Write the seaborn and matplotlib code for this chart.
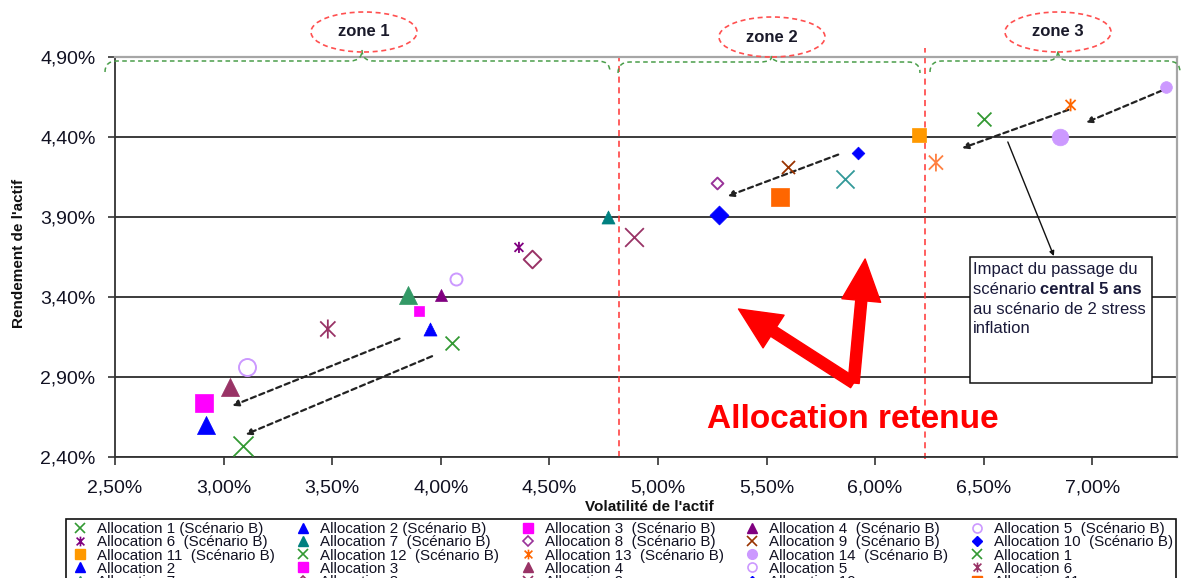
import matplotlib
matplotlib.use("Agg")
import matplotlib.pyplot as plt
import seaborn as sns
import pandas as pd
from matplotlib.path import Path
from matplotlib.patches import Ellipse, PathPatch, Rectangle
from matplotlib.markers import MarkerStyle
from matplotlib.lines import Line2D
from matplotlib.ticker import FuncFormatter

# ---------------------------------------------------------------- data
alloc_ids = list(range(1, 15))

# Scénario B (small markers)
vol_b = [4.05, 3.95, 3.90, 4.00, 4.07, 4.36, 4.77, 5.27, 5.60, 5.92, 6.20, 6.50, 6.90, 7.34]
ret_b = [3.11, 3.20, 3.31, 3.41, 3.51, 3.71, 3.90, 4.11, 4.21, 4.30, 4.41, 4.51, 4.60, 4.71]

# Scénario central (large markers)
vol_c = [3.09, 2.92, 2.91, 3.03, 3.11, 3.48, 3.85, 4.42, 4.89, 5.28, 5.56, 5.86, 6.28, 6.85]
ret_c = [2.47, 2.60, 2.74, 2.84, 2.96, 3.20, 3.41, 3.64, 3.775, 3.91, 4.025, 4.14, 4.24, 4.40]

x_ticks = [2.5, 3.0, 3.5, 4.0, 4.5, 5.0, 5.5, 6.0, 6.5, 7.0]
y_ticks = [2.4, 2.9, 3.4, 3.9, 4.4, 4.9]

zone_labels = ["zone 1", "zone 2", "zone 3"]
zone_bounds = [4.82, 6.23]          # red dashed separators (volatility, %)

# dashed impact arrows: (x_start, y_start, x_end, y_end)
impact_arrows = [
    (3.81, 3.14, 3.04, 2.72),
    (3.96, 3.03, 3.10, 2.54),
    (5.83, 4.29, 5.32, 4.03),
    (6.89, 4.57, 6.40, 4.33),
    (7.32, 4.69, 6.97, 4.49),
]

# ---------------------------------------------------------------- styles
ast_path = Path([(-0.8, -0.8), (0.8, 0.8), (-0.8, 0.8), (0.8, -0.8), (0, -1), (0, 1)],
                [Path.MOVETO, Path.LINETO] * 3)
ASTERISK = MarkerStyle(ast_path)

# (marker kind, colour, size in pt^2)
style_b = {
    1: ("x", "#339933", 100), 2: ("^", "#0000FF", 88), 3: ("s", "#FF00FF", 62),
    4: ("^", "#800080", 75), 5: ("o_open", "#CC99FF", 75), 6: ("ast", "#800080", 64),
    7: ("^", "#008080", 88), 8: ("D_open", "#993399", 36), 9: ("x", "#993300", 88),
    10: ("D", "#0000FF", 42), 11: ("s", "#FF9900", 88), 12: ("x", "#339933", 100),
    13: ("ast", "#FF6600", 83), 14: ("o", "#CC99FF", 71),
}
style_c = {
    1: ("x", "#339933", 207), 2: ("^", "#0000FF", 169), 3: ("s", "#FF00FF", 162),
    4: ("^", "#993366", 169), 5: ("o_open", "#CC99FF", 150), 6: ("ast", "#993366", 187),
    7: ("^", "#339966", 169), 8: ("D_open", "#993366", 81), 9: ("x", "#993366", 181),
    10: ("D", "#0000FF", 93), 11: ("s", "#FF6600", 162), 12: ("x", "#339999", 169),
    13: ("ast", "#FF8040", 162), 14: ("o", "#CC99FF", 144),
}


def scatter_kwargs(kind, color, size):
    kw = dict(s=size, zorder=5)
    if kind == "x":
        kw.update(marker="x", color=color, linewidth=1.3)
    elif kind == "ast":
        kw.update(marker=ASTERISK, color=color, facecolor="none", edgecolor=color, linewidth=1.3)
    elif kind == "o_open":
        kw.update(marker="o", color=color, facecolor="white", edgecolor=color, linewidth=1.4)
    elif kind == "D_open":
        kw.update(marker="D", color=color, facecolor="white", edgecolor=color, linewidth=1.4)
    else:
        kw.update(marker=kind, color=color, edgecolor=color, linewidth=0.5)
    return kw


def legend_handle(kind, color):
    kw = dict(linestyle="none", markersize=7)
    if kind == "x":
        kw.update(marker="x", color=color, markeredgewidth=1.2)
    elif kind == "ast":
        kw.update(marker=ASTERISK, markerfacecolor="none", markeredgecolor=color,
                  markeredgewidth=1.2)
    elif kind == "o_open":
        kw.update(marker="o", markerfacecolor="white", markeredgecolor=color,
                  markeredgewidth=1.2, markersize=6.5)
    elif kind == "D_open":
        kw.update(marker="D", markerfacecolor="white", markeredgecolor=color,
                  markeredgewidth=1.2, markersize=5)
    elif kind == "D":
        kw.update(marker="D", color=color, markersize=5.5)
    elif kind == "s":
        kw.update(marker="s", color=color, markersize=6.5)
    else:
        kw.update(marker=kind, color=color)
    return Line2D([], [], **kw)


# ---------------------------------------------------------------- figure
sns.set_theme(style="white")
plt.rcParams["font.family"] = ["Liberation Sans", "DejaVu Sans"]

W, H = 1182, 578
fig = plt.figure(figsize=(W / 100, H / 100), dpi=100)
fig.patch.set_facecolor("white")
ax = fig.add_axes([115 / W, 1 - 457 / H, (1177 - 115) / W, (457 - 57) / H])


def fx(px):
    return px / W


def fy(py):
    return 1 - py / H


df_b = pd.DataFrame({"alloc": alloc_ids, "vol": vol_b, "ret": ret_b})
df_c = pd.DataFrame({"alloc": alloc_ids, "vol": vol_c, "ret": ret_c})

for df, styles in ((df_c, style_c), (df_b, style_b)):
    for _, row in df.iterrows():
        kind, color, size = styles[int(row["alloc"])]
        sns.scatterplot(x=[row["vol"]], y=[row["ret"]], ax=ax, legend=False,
                        **scatter_kwargs(kind, color, size))

ax.set_xlim(2.5, 7.39)
ax.set_ylim(2.4, 4.9)
ax.set_xticks(x_ticks)
ax.set_yticks(y_ticks)
pct = FuncFormatter(lambda v, _: f"{v:.2f}%".replace(".", ","))
ax.xaxis.set_major_formatter(pct)
ax.yaxis.set_major_formatter(pct)
ax.tick_params(axis="both", labelsize=14, labelcolor="#111122", color="#333333", width=1.2)
ax.tick_params(axis="y", direction="out", length=5, pad=9, left=True)
ax.tick_params(axis="x", direction="out", length=6, pad=10, bottom=True)

ax.yaxis.grid(True, color="#1a1a1a", linewidth=1.2)
ax.xaxis.grid(False)
ax.set_axisbelow(True)
for side in ("left", "bottom"):
    ax.spines[side].set_color("#333333")
    ax.spines[side].set_linewidth(1.3)
for side in ("top", "right"):
    ax.spines[side].set_color("#a6a6a6")
    ax.spines[side].set_linewidth(1.6)

ax.set_xlabel("Volatilité de l'actif", fontsize=11, fontweight="bold", color="#111111")
ax.set_ylabel("Rendement de l'actif", fontsize=11, fontweight="bold", color="#111111")
ax.xaxis.set_label_coords(0.503, -0.108)
ax.yaxis.set_label_coords(-0.084, 0.51)

# zone separators
ax.axvline(zone_bounds[0], ymin=0, ymax=1.0, color="#FF3333", lw=1.1,
           linestyle=(0, (4, 3)), zorder=1)
ax.axvline(zone_bounds[1], ymin=-0.005, ymax=1.023, color="#FF3333", lw=1.1,
           linestyle=(0, (4, 3)), zorder=1, clip_on=False)

# dashed impact arrows
for x0, y0, x1, y1 in impact_arrows:
    ax.annotate("", xy=(x1, y1), xytext=(x0, y0),
                arrowprops=dict(arrowstyle="-|>", color="#222222", lw=1.6,
                                linestyle=(0, (2.4, 1.7)), mutation_scale=9,
                                shrinkA=0, shrinkB=0), zorder=4)

# explanatory box
box_x0, box_y0, box_x1, box_y1 = 6.435, 2.8625, 7.274, 3.65
ax.add_patch(Rectangle((box_x0, box_y0), box_x1 - box_x0, box_y1 - box_y0,
                       facecolor="white", edgecolor="#111111", lw=1.1, zorder=3))
ax.annotate("", xy=(6.823, 3.656), xytext=(6.611, 4.369),
            arrowprops=dict(arrowstyle="-|>", color="#111111", lw=1.0,
                            mutation_scale=7, shrinkA=0, shrinkB=0), zorder=4)

txt_kw = dict(fontsize=12, color="#1a1a3a", va="baseline", ha="left", zorder=6)
line_off = [-17, -37, -57, -76]
ax.annotate("Impact du passage du", xy=(box_x0, box_y1), xytext=(3, line_off[0]),
            textcoords="offset pixels", **txt_kw)
t1 = ax.annotate("scénario ", xy=(box_x0, box_y1), xytext=(3, line_off[1]),
                 textcoords="offset pixels", **txt_kw)
ax.annotate("central 5 ans", xy=(1, 0), xycoords=t1, xytext=(0, 0),
            textcoords="offset pixels", fontweight="bold",
            **{k: v for k, v in txt_kw.items() if k != "va"}, va="bottom")
ax.annotate("au scénario de 2 stress", xy=(box_x0, box_y1), xytext=(3, line_off[2]),
            textcoords="offset pixels", **txt_kw)
ax.annotate("inflation", xy=(box_x0, box_y1), xytext=(3, line_off[3]),
            textcoords="offset pixels", **txt_kw)

# highlighted allocation
ax.text(5.896, 2.581, "Allocation retenue", fontsize=24, fontweight="bold",
        color="#FF0000", ha="center", va="baseline", zorder=7)
red_tail = (5.901, 2.8625)
for tip in [(5.371, 3.325), (5.954, 3.6375)]:
    ax.annotate("", xy=tip, xytext=red_tail,
                arrowprops=dict(arrowstyle="simple,head_length=1.5,head_width=1.4,tail_width=0.4",
                                color="#FF0000", mutation_scale=20, shrinkA=0, shrinkB=0),
                zorder=7)


# ---------------------------------------------------------------- zones (figure coords)
def brace(x0, x1, xm, base, peak, drop=11, r=12):
    pts = [(x0, base + drop), (x0, base), (x0 + r, base),
           (xm - r, base), (xm, base), (xm, peak),
           (xm, base), (xm + r, base),
           (x1 - r, base), (x1, base), (x1, base + drop)]
    codes = [Path.MOVETO, Path.CURVE3, Path.CURVE3,
             Path.LINETO, Path.CURVE3, Path.CURVE3,
             Path.CURVE3, Path.CURVE3,
             Path.LINETO, Path.CURVE3, Path.CURVE3]
    return Path([(fx(a), fy(b)) for a, b in pts], codes)


zone_geom = [  # (brace x0, x1, peak x, base y, peak y, ellipse centre x, centre y)
    (105, 610, 362, 61, 50, 364, 32),
    (618, 920, 772, 62, 56, 772, 37),
    (930, 1180, 1058, 61, 50, 1058, 32),
]
for label, (x0, x1, xm, base, peak, ex, ey) in zip(zone_labels, zone_geom):
    fig.add_artist(PathPatch(brace(x0, x1, xm, base, peak), transform=fig.transFigure,
                             facecolor="none", edgecolor="#4a9e4a", lw=1.1,
                             linestyle=(0, (3, 2.2))))
    fig.add_artist(Ellipse((fx(ex), fy(ey)), 106 / W, 40 / H, transform=fig.transFigure,
                           facecolor="none", edgecolor="#FF5050", lw=1.2,
                           linestyle=(0, (3, 2.2))))
    fig.text(fx(ex), fy(ey), label, fontsize=12, fontweight="bold", color="#1a1a2a",
             ha="center", va="center")

# ---------------------------------------------------------------- legend
entries = []
for i in alloc_ids:
    sep = " " if i in (1, 2) else "  "
    kind, color, _ = style_b[i]
    entries.append((legend_handle(kind, color), f"Allocation {i}{sep}(Scénario B)"))
for i in alloc_ids:
    kind, color, _ = style_c[i]
    entries.append((legend_handle(kind, color), f"Allocation {i}"))

ncol = 5
nrow = -(-len(entries) // ncol)
ordered = [entries[r * ncol + c] for c in range(ncol) for r in range(nrow)
           if r * ncol + c < len(entries)]
leg = fig.legend([h for h, _ in ordered], [l for _, l in ordered],
                 loc="upper left", bbox_to_anchor=(fx(66), fy(519)), ncol=ncol,
                 fontsize=10.9, frameon=True, fancybox=False, edgecolor="#111111",
                 framealpha=1, borderpad=0.2, handlelength=1.45, handletextpad=0.4,
                 columnspacing=1.15, labelspacing=-0.05, borderaxespad=0)
leg.get_frame().set_linewidth(1.2)
for t in leg.get_texts():
    t.set_color("#111122")

fig.savefig("out.png", dpi=100, facecolor="white")
